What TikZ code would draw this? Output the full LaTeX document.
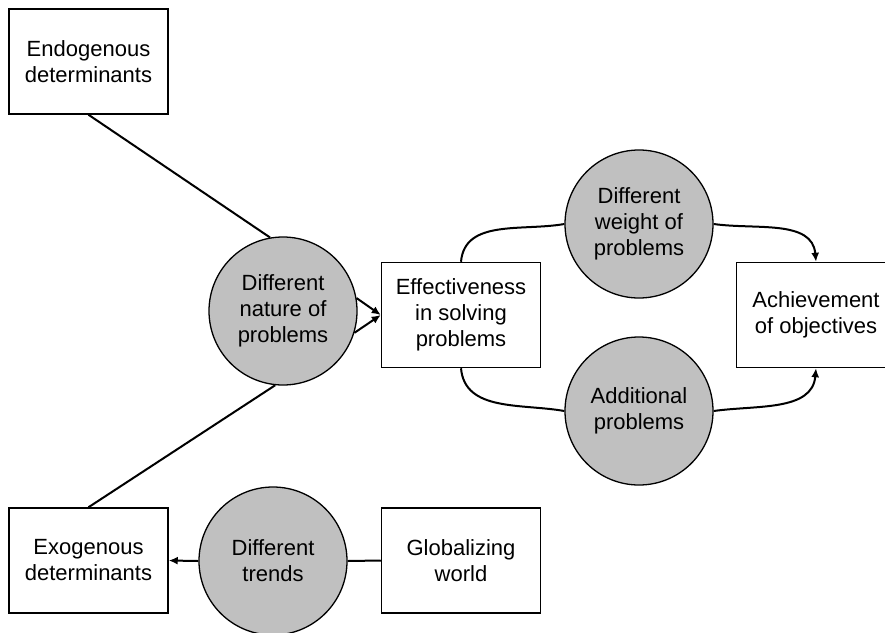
\documentclass[tikz,border=0pt]{standalone}
\usepackage{fontspec}
\setmainfont{Liberation Sans}
\usetikzlibrary{arrows.meta}
\definecolor{issuegray}{RGB}{192,192,192}
\begin{document}
\begin{tikzpicture}[x=1pt,y=-1pt,
  every node/.style={font=\fontsize{22}{26}\selectfont, align=center, inner sep=0pt},
  factor/.style={draw, line width=1.5pt, fill=white, minimum width=159pt, minimum height=105pt},
  issue/.style={circle, draw, line width=1.3pt, fill=issuegray, minimum size=148pt},
  link/.style={line width=2pt},
  flow/.style={link, -{Latex[length=9pt,width=8pt]}}
]
\useasboundingbox (0,0) rectangle (885,632);

% boxes
\node[factor] (endo) at (88.5,61.5) {Endogenous\\determinants};
\node[factor] (exo)  at (88.5,560.5) {Exogenous\\determinants};
\node[factor] (eff)  at (461,315) {Effectiveness\\in solving\\problems};
\node[factor] (ach)  at (816,315) {Achievement\\of objectives};
\node[factor] (glob) at (461,560.5) {Globalizing\\world};

% shaded circles
\node[issue] (nature) at (283,311) {Different\\nature of\\problems};
\node[issue] (weight) at (639,224) {Different\\weight of\\problems};
\node[issue] (addl)   at (639,411) {Additional\\problems};
\node[issue] (trends) at (273,561) {Different\\trends};

% determinants feeding the nature of problems
\draw[link] (endo.south) -- (nature.100);
\draw[link] (exo.north) -- (nature.264);

% nature of problems into effectiveness
\draw[flow] (nature.10) -- (eff.west);
\draw[flow] (nature.-17) -- (eff.west);

% upper and lower routes to achievement
\draw[link] (eff.north) to[out=85, in=190] (weight.west);
\draw[flow] (weight.east) to[out=-8, in=95] (ach.north);
\draw[link] (eff.south) to[out=-85, in=170] (addl.west);
\draw[flow] (addl.east) to[out=8, in=-95] (ach.south);

% globalizing world through trends
\draw[link] (glob.west) -- (trends.east);
\draw[flow] (trends.west) -- (exo.east);
\end{tikzpicture}
\end{document}
